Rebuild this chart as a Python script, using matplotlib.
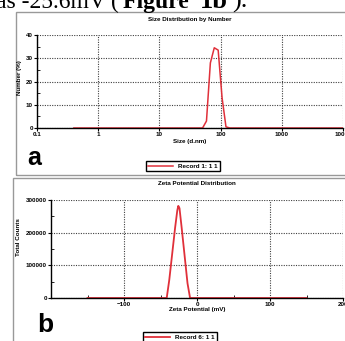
import matplotlib
matplotlib.use("Agg")
import matplotlib.pyplot as plt
from matplotlib.patches import Rectangle
from matplotlib.ticker import MultipleLocator

W, H = 345, 341

# panel a: size distribution by number
size_nm = [0.4, 43.82, 50.75, 58.77, 68.06, 78.82, 91.28, 105.7, 122.4, 141.8, 10000]
number_pct = [0, 0, 0, 3, 28, 34.5, 33.5, 13, 0.5, 0, 0]
size_ticks = [0.1, 1, 10, 100, 1000, 10000]
size_ticklabels = ["0.1", "1", "10", "100", "1000", "10000"]

# panel b: zeta potential distribution
zeta_mv = [-150, -45, -41.5, -38, -34, -30, -27, -25.6, -24, -21, -17, -13, -9.5, 150]
total_counts = [0, 0, 0, 55000, 135000, 215000, 268000, 282000, 275000, 215000, 130000, 45000, 0, 0]
zeta_ticks = [-100, 0, 100, 200]

plt.rcParams['font.family'] = ['Liberation Sans', 'DejaVu Sans']

def rect(x0, y0, x1, y1):
    # pixel box (top-left origin) -> figure fraction
    return [x0 / W, 1 - y1 / H, (x1 - x0) / W, (y1 - y0) / H]

fig = plt.figure(figsize=(W / 100, H / 100), dpi=100)

# text from the page above the figure (only its lower part shows)
serif = dict(fontsize=17, family="Liberation Serif", va="baseline")
fig.text(-4 / W, 1 - 8 / H, "as -25.6mV", **serif)
fig.text(111 / W, 1 - 8 / H, "(", **serif)
fig.text(123 / W, 1 - 8 / H, "Figure", weight="bold", **serif)
fig.text(200 / W, 1 - 8 / H, "1b", weight="bold", fontsize=19, family="Liberation Serif", va="baseline")
fig.text(232 / W, 1 - 8 / H, ").", fontsize=19, family="Liberation Serif", va="baseline")

# panel borders
for (x0, y0, x1, y1) in [(16, 12, 350, 175), (13, 178, 350, 345)]:
    fig.patches.append(Rectangle((x0 / W, 1 - y1 / H), (x1 - x0) / W, (y1 - y0) / H,
                                 transform=fig.transFigure, fill=False,
                                 edgecolor="#999999", lw=1))

grid_kw = dict(color="0.25", linestyle=(0, (1, 1.2)), linewidth=0.8)
red = "#e0303a"

def style(ax):
    for s in ["top", "right"]:
        ax.spines[s].set_visible(False)
    for s in ["left", "bottom"]:
        ax.spines[s].set_linewidth(1)
    ax.grid(True, which="major", **grid_kw)
    ax.tick_params(which="major", direction="out", length=2, width=0.8, labelsize=4.5, pad=1)
    ax.tick_params(which="minor", direction="in", length=2, width=0.6)
    for lab in ax.get_xticklabels() + ax.get_yticklabels():
        lab.set_fontweight("bold")

# ---- panel a
ax1 = fig.add_axes(rect(37, 35, 343, 128))
ax1.plot(size_nm, number_pct, color=red, lw=1.1, label="Record 1: 1 1")
ax1.set_xscale("log")
ax1.set_xlim(0.1, 10000)
ax1.set_ylim(0, 40)
ax1.set_xticks(size_ticks)
ax1.set_xticklabels(size_ticklabels)
ax1.xaxis.set_minor_locator(plt.NullLocator())
ax1.yaxis.set_major_locator(MultipleLocator(10))
ax1.yaxis.set_minor_locator(MultipleLocator(5))
style(ax1)
ax1.set_title("Size Distribution by Number", fontsize=4.5, weight="bold", pad=10)
ax1.set_xlabel("Size (d.nm)", fontsize=4.5, weight="bold", labelpad=1)
fig.text(20 / W, 1 - 78 / H, "Number (%)", rotation=90, fontsize=4.5, weight="bold",
         ha="center", va="center")
ax1.legend(loc="center", bbox_to_anchor=(183 / W, 1 - 166 / H), bbox_transform=fig.transFigure,
           prop={"size": 4.5, "weight": "bold"}, handlelength=4, fancybox=False,
           edgecolor="black", framealpha=1, borderpad=0.3)
fig.text(27 / W, 1 - 165 / H, "a", fontsize=18, weight="bold", va="baseline")

# ---- panel b
ax2 = fig.add_axes(rect(51, 200, 343, 298))
ax2.plot(zeta_mv, total_counts, color=red, lw=1.3, label="Record 6: 1 1")
ax2.set_xlim(-200, 200)
ax2.set_ylim(0, 300000)
ax2.set_xticks(zeta_ticks)
ax2.yaxis.set_major_locator(MultipleLocator(100000))
ax2.yaxis.set_minor_locator(MultipleLocator(50000))
ax2.xaxis.set_minor_locator(MultipleLocator(50))
style(ax2)
ax2.set_title("Zeta Potential Distribution", fontsize=4.5, weight="bold", pad=11)
ax2.set_xlabel("Zeta Potential (mV)", fontsize=4.5, weight="bold", labelpad=0)
fig.text(18 / W, 1 - 237 / H, "Total Counts", rotation=90, fontsize=4.5, weight="bold",
         ha="center", va="center")
ax2.legend(loc="center", bbox_to_anchor=(180 / W, 1 - 337 / H), bbox_transform=fig.transFigure,
           prop={"size": 4.5, "weight": "bold"}, handlelength=4, fancybox=False,
           edgecolor="black", framealpha=1, borderpad=0.3)
fig.text(37 / W, 1 - 332 / H, "b", fontsize=19, weight="bold", va="baseline")

fig.savefig("out.png", dpi=100)
